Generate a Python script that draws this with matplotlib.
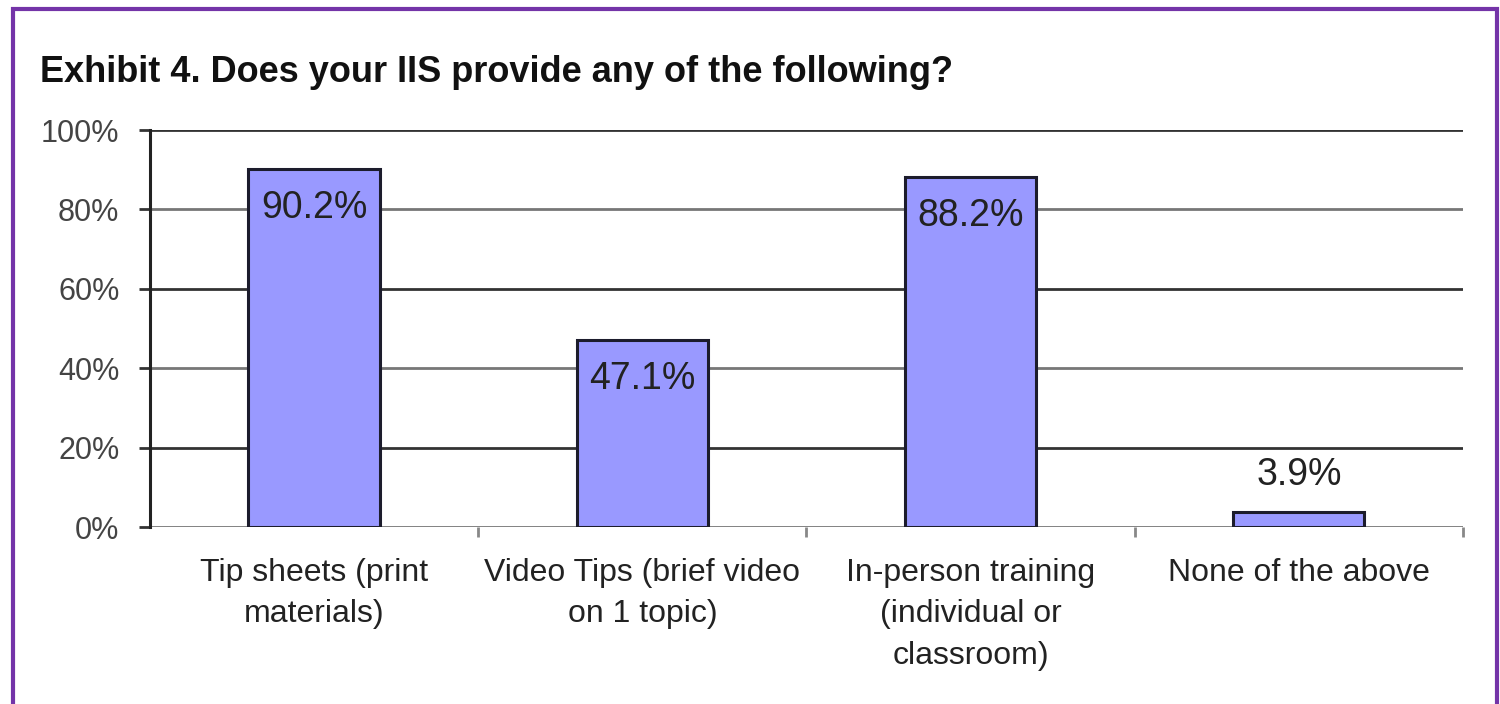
import matplotlib
matplotlib.use("Agg")
import matplotlib.pyplot as plt
from matplotlib import font_manager
from matplotlib.patches import Rectangle

categories = ["Tip sheets (print\nmaterials)",
              "Video Tips (brief video\non 1 topic)",
              "In-person training\n(individual or\nclassroom)",
              "None of the above"]
values = [90.2, 47.1, 88.2, 3.9]
yticks = [0, 20, 40, 60, 80, 100]
title = "Exhibit 4. Does your IIS provide any of the following?"

installed = {f.name for f in font_manager.fontManager.ttflist}
FONT = "Liberation Sans Narrow" if "Liberation Sans Narrow" in installed else "Liberation Sans"
plt.rcParams["font.family"] = [FONT, "DejaVu Sans"]

fig = plt.figure(figsize=(15, 7.04), dpi=100)
ax = fig.add_axes([0.1, 0.2514, 0.8753, 0.5639])

# purple frame around the exhibit
fig.patches.append(Rectangle((13 / 1500, -0.02), 1484 / 1500, 1.02 - 9 / 704,
                             transform=fig.transFigure, fill=False,
                             edgecolor="#7434a8", linewidth=3))

fig.text(40 / 1500, 1 - 82 / 704, title, fontsize=26, fontweight="bold",
         color="#111111", ha="left", va="baseline")

# gridlines alternate dark / grey like the original
for i, y in enumerate(yticks):
    ax.axhline(y, color="#333333" if i % 2 else "#777777", lw=2.0, zorder=1)

x = list(range(len(values)))
ax.bar(x, values, width=0.4, color="#9999ff", edgecolor="#1c1c2c",
       linewidth=2.2, zorder=3)

for xi, v in zip(x, values):
    if v > 20:
        ax.annotate(f"{v}%", (xi, v), xytext=(0, -28), textcoords="offset points",
                    ha="center", va="center", fontsize=27, color="#222222", zorder=4)
    else:
        ax.annotate(f"{v}%", (xi, v), xytext=(0, 26), textcoords="offset points",
                    ha="center", va="center", fontsize=27, color="#222222", zorder=4)

ax.set_xlim(-0.5, len(values) - 0.5)
ax.set_ylim(0, 100)
ax.set_yticks(yticks)
ax.set_yticklabels([f"{y}%" for y in yticks], fontsize=22, color="#444444")
ax.tick_params(axis="y", length=8, width=2, color="#333333", pad=14)

ax.set_xticks(x)
ax.set_xticklabels(categories, fontsize=23, color="#222222", linespacing=1.5)
ax.tick_params(axis="x", which="major", length=0, pad=22)
ax.set_xticks([i + 0.5 for i in range(len(values))], minor=True)
ax.tick_params(axis="x", which="minor", length=7, width=2, color="#888888")

for s in ["top", "right", "bottom"]:
    ax.spines[s].set_visible(False)
ax.spines["left"].set_color("#222222")
ax.spines["left"].set_linewidth(2.2)

fig.savefig("out.png", dpi=100)
